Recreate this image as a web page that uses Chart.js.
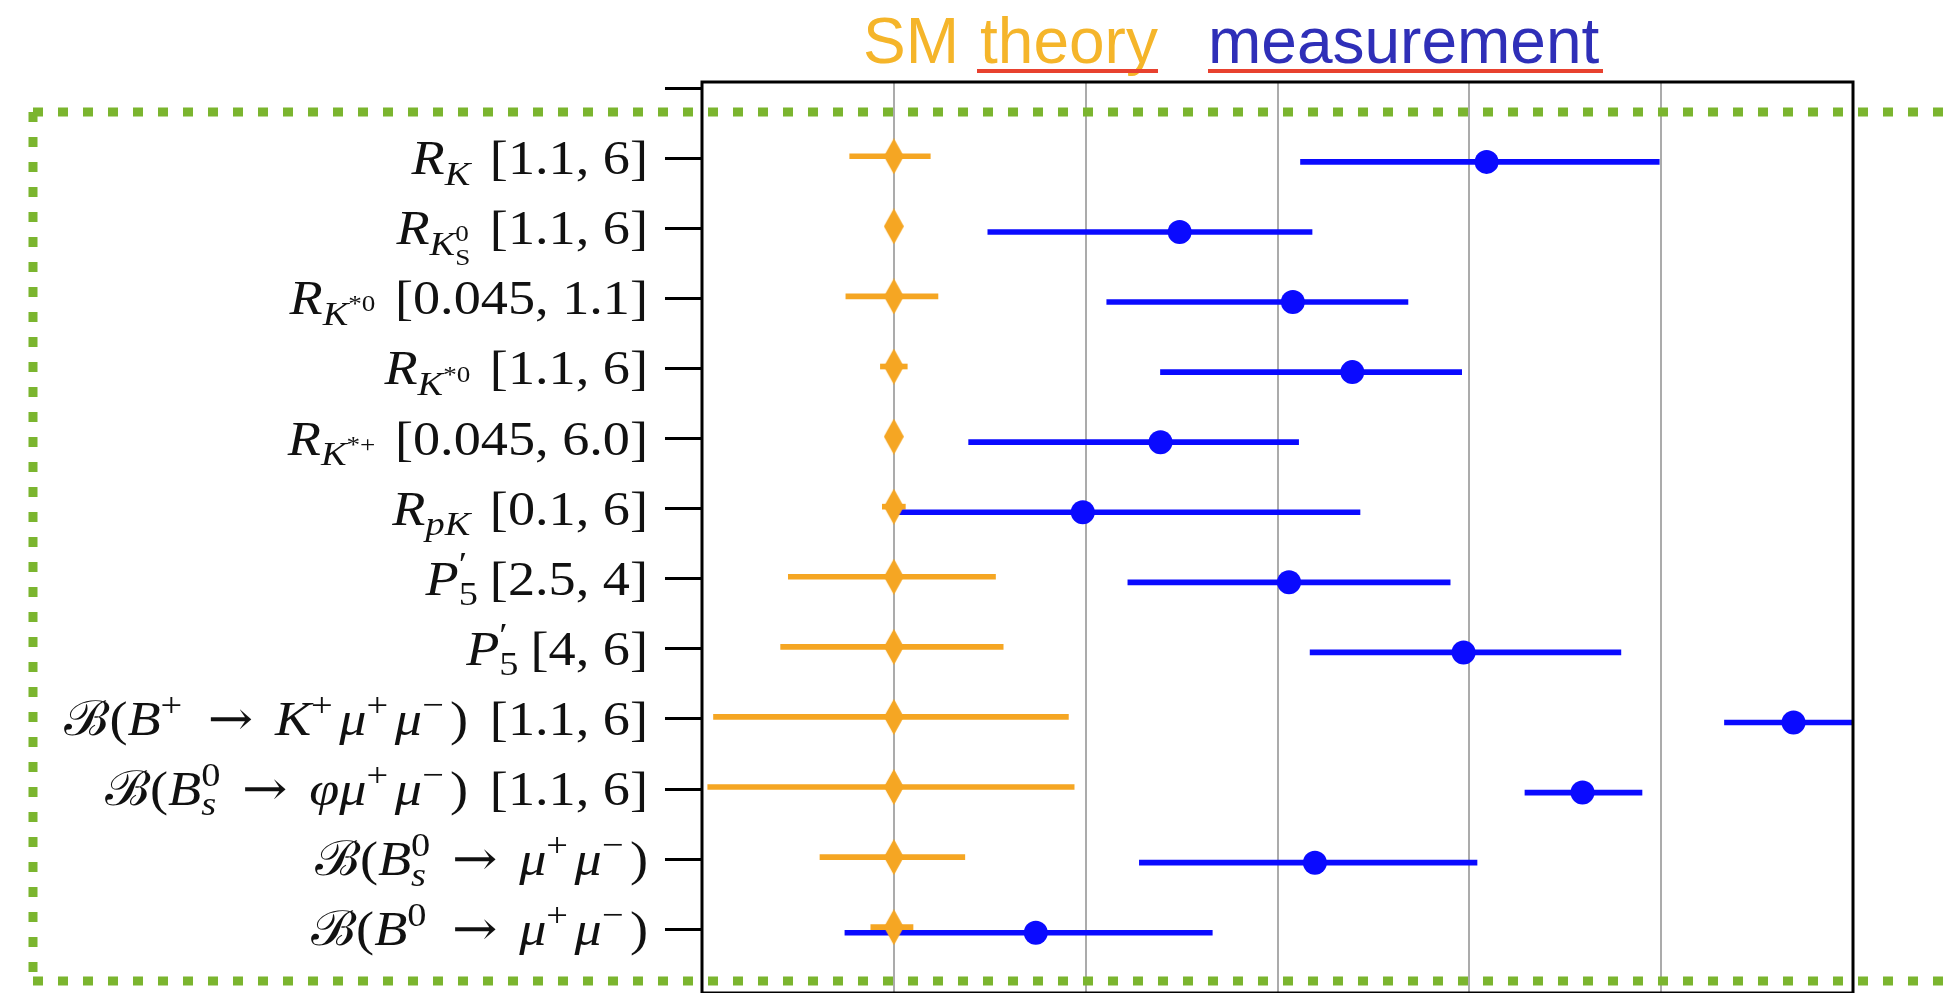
<!DOCTYPE html>
<html>
<head>
<meta charset="utf-8">
<script src="https://cdn.jsdelivr.net/npm/chart.js@4.4.0/dist/chart.umd.min.js"></script>
<style>
  html, body { margin: 0; padding: 0; overflow: hidden; background: #fff; }
  #wrap { width: 1946px; height: 1005px; }
</style>
</head>
<body>
<div id="wrap"><canvas id="chart"></canvas></div>
<script>
// row labels: [text, font ('i' italic / 'r' roman / 'a' arrow), level, stacked-with-next]
// numbers are extra gaps in em
const rowLabels = [
  [['R','i'], ['K','i','b'], 0.36, ['[1.1, 6]','r']],
  [['R','i'], ['K','i','b'], ['0','r','bp',1], ['S','r','bb'], 0.36, ['[1.1, 6]','r']],
  [['R','i'], ['K','i','b'], ['*0','r','bp'], 0.36, ['[0.045, 1.1]','r']],
  [['R','i'], ['K','i','b'], ['*0','r','bp'], 0.36, ['[1.1, 6]','r']],
  [['R','i'], ['K','i','b'], ['*+','r','bp'], 0.36, ['[0.045, 6.0]','r']],
  [['R','i'], ['pK','i','b'], 0.36, ['[0.1, 6]','r']],
  [['P','i'], ['\u2032','r','p',1], ['5','r','b'], 0.22, ['[2.5, 4]','r']],
  [['P','i'], ['\u2032','r','p',1], ['5','r','b'], 0.22, ['[4, 6]','r']],
  [['\u212C','r'], ['(','r'], ['B','i'], ['+','r','p'], 0.35, ['\u2192','a'], 0.4, ['K','i'], ['+','r','p'],
   ['\u03BC','i'], ['+','r','p'], ['\u03BC','i'], ['\u2212','r','p'], [')','r'], 0.4, ['[1.1, 6]','r']],
  [['\u212C','r'], ['(','r'], ['B','i'], ['0','r','p',1], ['s','i','b'], 0.4, ['\u2192','a'], 0.4, ['\u03C6','i'],
   ['\u03BC','i'], ['+','r','p'], ['\u03BC','i'], ['\u2212','r','p'], [')','r'], 0.4, ['[1.1, 6]','r']],
  [['\u212C','r'], ['(','r'], ['B','i'], ['0','r','p',1], ['s','i','b'], 0.4, ['\u2192','a'], 0.4,
   ['\u03BC','i'], ['+','r','p'], ['\u03BC','i'], ['\u2212','r','p'], [')','r']],
  [['\u212C','r'], ['(','r'], ['B','i'], ['0','r','p'], 0.35, ['\u2192','a'], 0.4,
   ['\u03BC','i'], ['+','r','p'], ['\u03BC','i'], ['\u2212','r','p'], [')','r']]
];

// SM theory predictions (normalised units on the x axis)
const smCenter = [1, 1, 1, 1, 1, 1, 1, 1, 1, 1, 1, 1];
const smLow    = [0.77, 0.98, 0.75, 0.93, 0.97, 0.94, 0.45, 0.41, 0.06, 0.03, 0.615, 0.88];
const smHigh   = [1.19, 1.02, 1.23, 1.07, 1.03, 1.06, 1.53, 1.57, 1.91, 1.94, 1.37, 1.10];

// measurements
const measCenter = [4.09, 2.49, 3.08, 3.39, 2.39, 1.985, 3.06, 3.97, 5.69, 4.59, 3.195, 1.74];
const measLow    = [3.12, 1.49, 2.11, 2.39, 1.39, 1.01, 2.22, 3.17, 5.33, 4.29, 2.28, 0.745];
const measHigh   = [4.99, 3.18, 3.68, 3.96, 3.11, 3.43, 3.90, 4.79, 6.10, 4.90, 4.04, 2.66];

const xTicks = [0, 1, 2, 3, 4, 5, 6];
const yTicks = [0, 1, 2, 3, 4, 5, 6, 7, 8, 9, 10, 11, 12];

const ORANGE = '#f5a623';
const BLUE = '#0a0aff';
const rows = rowLabels.map((_, i) => i + 1);

// tall diamond marker for the theory points
const diamond = document.createElement('canvas');
diamond.width = 20; diamond.height = 36;
(function () {
  const c = diamond.getContext('2d');
  c.fillStyle = ORANGE;
  c.beginPath();
  c.moveTo(10, 0); c.lineTo(20, 18); c.lineTo(10, 36); c.lineTo(0, 18);
  c.closePath(); c.fill();
})();

const LEVELS = {
  base: { s: 1, dy: 0 },
  b:  { s: 0.7, dy: 0.22 },
  p:  { s: 0.7, dy: -0.4 },
  bp: { s: 0.5, dy: -0.06 },
  bb: { s: 0.5, dy: 0.44 }
};
const LABEL_PX = 48;
const LABEL_RIGHT = 648;
const LABEL_STRETCH = 1.13;   // widen the serif face towards a math-font look
const SUP_KERN = 0.12;        // extra room after a charge superscript

function fontFor(tok) {
  const lv = LEVELS[tok[2] || 'base'];
  const size = Math.round(LABEL_PX * lv.s);
  if (tok[1] === 'a') return size + 'px "DejaVu Serif", serif';
  return (tok[1] === 'i' ? 'italic ' : '') + size + 'px "Liberation Serif", "DejaVu Serif", serif';
}

// lays out one label, returns the pieces and total width
function layoutLabel(ctx, tokens) {
  const pieces = [];
  let x = 0, stackW = 0;
  tokens.forEach(tok => {
    if (typeof tok === 'number') { x += tok * LABEL_PX; return; }
    ctx.font = fontFor(tok);
    const w = ctx.measureText(tok[0]).width;
    pieces.push({ tok, x, font: ctx.font });
    if (tok[3]) { stackW = Math.max(stackW, w); return; }
    x += Math.max(w, stackW);
    if (tok[2] === 'p' && !stackW) x += SUP_KERN * LABEL_PX;
    stackW = 0;
  });
  return { pieces, width: x };
}

const decor = {
  id: 'decor',
  afterDraw(chart) {
    const { ctx, chartArea: a, scales } = chart;
    ctx.save();

    // plot frame
    ctx.strokeStyle = '#000';
    ctx.lineWidth = 3;
    ctx.strokeRect(a.left, a.top, a.right - a.left, a.bottom - a.top);

    // row labels
    ctx.fillStyle = '#111';
    ctx.textBaseline = 'alphabetic';
    ctx.textAlign = 'left';
    rowLabels.forEach((tokens, i) => {
      const yc = scales.y.getPixelForValue(rows[i]);
      const lay = layoutLabel(ctx, tokens);
      ctx.save();
      ctx.translate(LABEL_RIGHT - lay.width * LABEL_STRETCH, 0);
      ctx.scale(LABEL_STRETCH, 1);
      lay.pieces.forEach(p => {
        const lv = LEVELS[p.tok[2] || 'base'];
        ctx.font = p.font;
        ctx.fillText(p.tok[0], p.x, yc + 0.33 * LABEL_PX + lv.dy * LABEL_PX);
      });
      ctx.restore();
    });

    // header
    ctx.font = '64px "Liberation Sans", Arial, sans-serif';
    ctx.fillStyle = '#f5b52a';
    ctx.fillText('SM', 863, 63);
    ctx.fillText('theory', 980, 63);
    ctx.fillStyle = '#2f2fb8';
    ctx.fillText('measurement', 1208, 63);
    ctx.strokeStyle = '#e8412f';
    ctx.lineWidth = 4;
    ctx.beginPath();
    ctx.moveTo(977, 71); ctx.lineTo(1158, 71);
    ctx.moveTo(1208, 71); ctx.lineTo(1603, 71);
    ctx.stroke();

    // dotted highlight box
    ctx.strokeStyle = '#7bb52f';
    ctx.lineWidth = 9;
    ctx.setLineDash([10, 15]);
    ctx.beginPath();
    ctx.moveTo(33, 112); ctx.lineTo(1990, 112);
    ctx.moveTo(33, 112); ctx.lineTo(33, 981);
    ctx.moveTo(33, 981); ctx.lineTo(1990, 981);
    ctx.stroke();

    ctx.restore();
  }
};

new Chart(document.getElementById('chart'), {
  type: 'scatter',
  data: {
    datasets: [
      {
        type: 'bar', indexAxis: 'y', order: 4,
        data: rows.map((r, i) => ({ y: r - 0.03, x: [smLow[i], smHigh[i]] })),
        backgroundColor: ORANGE, barThickness: 5, grouped: false, borderWidth: 0
      },
      {
        type: 'bar', indexAxis: 'y', order: 3,
        data: rows.map((r, i) => ({ y: r + 0.05, x: [measLow[i], measHigh[i]] })),
        backgroundColor: BLUE, barThickness: 5, grouped: false, borderWidth: 0
      },
      {
        type: 'scatter', order: 2,
        data: rows.map((r, i) => ({ x: smCenter[i], y: r - 0.03 })),
        pointStyle: diamond
      },
      {
        type: 'scatter', order: 1,
        data: rows.map((r, i) => ({ x: measCenter[i], y: r + 0.05 })),
        pointStyle: 'circle', pointRadius: 12, backgroundColor: BLUE, borderWidth: 0
      }
    ]
  },
  options: {
    responsive: true,
    maintainAspectRatio: false,
    animation: false,
    events: [],
    layout: { padding: { left: 0, top: 82, right: 93, bottom: 5 } },
    plugins: { legend: { display: false }, tooltip: { enabled: false } },
    scales: {
      x: {
        type: 'linear', min: xTicks[0], max: xTicks[xTicks.length - 1],
        afterBuildTicks: s => { s.ticks = xTicks.map(v => ({ value: v })); },
        afterFit: s => { s.height = 0; },
        ticks: { display: false },
        border: { display: false },
        grid: {
          drawTicks: false,
          lineWidth: 2,
          color: c => (c.tick && (c.tick.value === 0 || c.tick.value === 6)) ? 'rgba(0,0,0,0)' : '#ababab'
        }
      },
      y: {
        type: 'linear', reverse: true, offset: false,
        min: -0.09, max: 12.91,
        afterBuildTicks: s => { s.ticks = yTicks.map(v => ({ value: v })); },
        afterFit: s => { s.width = 702; },
        ticks: { callback: () => '' },
        border: { display: false },
        grid: { drawOnChartArea: false, drawTicks: true, tickLength: 37, color: '#000', lineWidth: 3, offset: false }
      }
    }
  },
  plugins: [decor]
});
</script>
</body>
</html>
